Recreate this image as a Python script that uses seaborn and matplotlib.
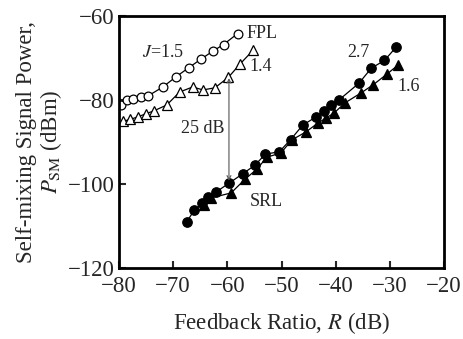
import matplotlib
matplotlib.use("Agg")
import matplotlib.pyplot as plt
import seaborn as sns
import pandas as pd

# FPL, J=1.5 (open circles)
fpl15_x = [-79.6, -78.6, -77.4, -75.9, -74.6, -71.9, -69.5, -67.1, -64.9, -62.7, -60.7, -58.1]
fpl15_y = [-81.1, -80.0, -79.7, -79.3, -79.0, -76.9, -74.5, -72.3, -70.3, -68.4, -66.8, -64.2]
# FPL, J=1.4 (open triangles)
fpl14_x = [-79.3, -77.9, -76.5, -75.1, -73.6, -71.2, -68.8, -66.4, -64.5, -62.3, -59.8, -57.7, -55.2]
fpl14_y = [-85.1, -84.6, -84.0, -83.3, -82.6, -81.2, -78.1, -76.9, -77.6, -77.1, -74.6, -71.5, -68.1]
# SRL, J=2.7 (filled circles)
srl27_x = [-67.5, -66.1, -64.6, -63.5, -62.1, -59.7, -57.1, -54.9, -53.0, -50.4, -48.3, -46.1,
           -43.6, -42.2, -40.9, -39.4, -35.7, -33.4, -31.0, -28.9]
srl27_y = [-109.0, -106.2, -104.5, -103.1, -101.9, -99.8, -97.5, -95.5, -92.9, -92.3, -89.4, -86.0,
           -84.0, -82.5, -81.2, -80.0, -76.0, -72.4, -70.6, -67.5]
# SRL, J=1.6 (filled triangles)
srl16_x = [-64.3, -63.0, -59.3, -56.7, -54.5, -52.7, -50.1, -48.1, -45.5, -43.3, -41.8, -40.3,
           -38.3, -35.3, -33.1, -30.5, -28.5]
srl16_y = [-105.0, -103.3, -102.1, -98.8, -96.4, -93.6, -92.6, -89.5, -87.6, -85.5, -84.3, -83.1,
           -80.7, -78.3, -76.4, -73.8, -71.7]

x_ticks = [-80, -70, -60, -50, -40, -30, -20]
y_ticks = [-120, -100, -80, -60]

sns.set_style("white")
plt.rcParams['font.family'] = ['Liberation Serif', 'DejaVu Serif']
plt.rcParams['mathtext.fontset'] = 'stix'

fig = plt.figure(figsize=(4.63, 3.39), dpi=100)
ax = fig.add_axes([0.257, 0.209, 0.702, 0.744])

series = [
    (fpl15_x, fpl15_y, 'o', 'white', 6.3),
    (fpl14_x, fpl14_y, '^', 'white', 7.0),
    (srl27_x, srl27_y, 'o', 'black', 6.8),
    (srl16_x, srl16_y, '^', 'black', 7.0),
]
for xs, ys, mk, fc, ms in series:
    df = pd.DataFrame({'x': xs, 'y': ys})
    sns.lineplot(data=df, x='x', y='y', ax=ax, sort=False, color='black', lw=0.9,
                 marker=mk, markersize=ms, markerfacecolor=fc, markeredgecolor='black',
                 markeredgewidth=0.9)

ax.set_xlim(-80, -20)
ax.set_ylim(-120, -60)
ax.set_xticks(x_ticks)
ax.set_yticks(y_ticks)
ax.set_xticklabels([f"\u2212{abs(v)}" for v in x_ticks])
ax.set_yticklabels([f"\u2212{abs(v)}" for v in y_ticks])
ax.tick_params(direction='in', length=5, width=1.5, labelsize=16.5,
               top=False, right=False, left=True, bottom=True)
ax.tick_params(axis='x', pad=6)
ax.tick_params(axis='y', pad=3)
for s in ax.spines.values():
    s.set_linewidth(2.0)
    s.set_color('black')

ax.set_xlabel("Feedback Ratio, $\\mathit{R}$ (dB)", fontsize=16.5, labelpad=9)
ax.set_ylabel("Self-mixing Signal Power,\n$\\mathit{P}_{\\mathrm{SM}}$ (dBm)", fontsize=16.5,
              labelpad=3, linespacing=1.05)

# annotations
ax.annotate('', xy=(-59.7, -74.8), xytext=(-59.7, -99.2),
            arrowprops=dict(arrowstyle='<->', color='#555555', lw=0.8, shrinkA=0, shrinkB=0,
                            mutation_scale=7))
ax.text(-64.6, -86.7, "25 dB", fontsize=13, ha='center', va='center',
        bbox=dict(fc='white', ec='none', pad=0.5))
ax.text(-71.9, -68.6, "$\\mathit{J}$=1.5", fontsize=13, ha='center', va='center')
ax.text(-56.4, -64.2, "FPL", fontsize=13, ha='left', va='center')
ax.text(-55.9, -72.1, "1.4", fontsize=13, ha='left', va='center')
ax.text(-37.8, -68.6, "2.7", fontsize=13, ha='left', va='center')
ax.text(-28.6, -76.9, "1.6", fontsize=13, ha='left', va='center')
ax.text(-55.9, -104.2, "SRL", fontsize=13, ha='left', va='center')

fig.savefig("out.png", dpi=100)
